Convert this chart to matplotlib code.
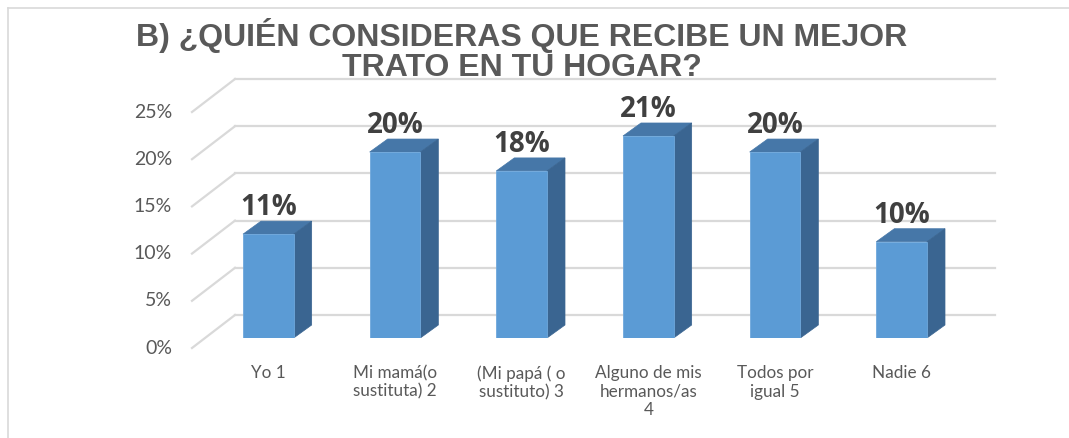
import matplotlib
matplotlib.use("Agg")
import matplotlib.pyplot as plt
from matplotlib.patches import Polygon
from matplotlib.lines import Line2D
import numpy as np

categories = ["Yo 1", "Mi mamá(o\nsustituta) 2", "(Mi papá ( o\nsustituto) 3",
              "Alguno de mis\nhermanos/as\n4", "Todos por\nigual 5", "Nadie 6"]
values = [0.11, 0.197, 0.177, 0.214, 0.197, 0.102]
yticks = [0, 0.05, 0.10, 0.15, 0.20, 0.25]
title = "B) ¿QUIÉN CONSIDERAS QUE RECIBE UN MEJOR\nTRATO EN TU HOGAR?"

W, H, DPI = 1069, 438, 100
fig = plt.figure(figsize=(W / DPI, H / DPI), dpi=DPI)
fig.patch.set_facecolor("white")

# chart frame
fig.add_artist(Line2D([8 / W, 8 / W], [0, 1 - 8 / H], transform=fig.transFigure, color="#d9d9d9", lw=1.2))
fig.add_artist(Line2D([8 / W, 1], [1 - 8 / H, 1 - 8 / H], transform=fig.transFigure, color="#d9d9d9", lw=1.2))

ax = fig.add_axes([205 / W, (H - 338) / H, 760 / W, 236 / H])
ax.set_xlim(-0.5, len(categories) - 0.5)
ax.set_ylim(0, 0.25)
ax.axis("off")

# pixel -> data conversion
px_x = (len(categories)) / 760.0
px_y = 0.25 / 236.0

grid_col = "#d9d9d9"
# back wall offset (+30 px right, 23 px up), front floor edge offset (-13, -10)
bx, by = 30 * px_x, 23 * px_y
fx, fy = -13 * px_x, -10 * px_y
x0, x1 = -0.5, len(categories) - 0.5
for t in yticks:
    ax.plot([x0 + bx, x1 + bx], [t + by, t + by], color=grid_col, lw=1.6, clip_on=False, zorder=0)
    ax.plot([x0 + fx, x0 + bx], [t + fy, t + by], color=grid_col, lw=1.6, clip_on=False, zorder=0)
    ax.text(x0 + fx - 20 * px_x, t + fy, f"{t:.0%}", ha="right", va="center",
            fontsize=14, color="#595959", family=["Lato", "DejaVu Sans"])

# bars
front_col, top_col, side_col = "#5B9BD5", "#4677A8", "#3A6591"
bw = 0.4
dx, dy = 18 * px_x, 13 * px_y
xs = np.arange(len(categories))
ax.bar(xs, values, width=bw, color=front_col, edgecolor="#6fa8dc", lw=0.6, zorder=3)
for x, v in zip(xs, values):
    l, r = x - bw / 2, x + bw / 2
    ax.add_patch(Polygon([[l, v], [r, v], [r + dx, v + dy], [l + dx, v + dy]],
                         closed=True, facecolor=top_col, edgecolor=top_col, lw=0.5, zorder=2))
    ax.add_patch(Polygon([[r, 0], [r, v], [r + dx, v + dy], [r + dx, dy]],
                         closed=True, facecolor=side_col, edgecolor=side_col, lw=0.5, zorder=2))
    ax.text(x, v + 19 * px_y, f"{v:.0%}", ha="center", va="baseline", fontsize=20,
            fontweight="bold", color="#404040", family=["Open Sans", "DejaVu Sans"], zorder=5)

for x, c in zip(xs, categories):
    ax.text(x, -27 * px_y, c, ha="center", va="top", fontsize=12.3, color="#595959",
            linespacing=1.2, family=["Lato", "DejaVu Sans"], clip_on=False)

fig.text(522 / W, 1 - 18 / H, title, ha="center", va="top", fontsize=23, fontweight="bold",
         color="#595959", linespacing=1.0, family=["Liberation Sans", "DejaVu Sans"])

fig.savefig("out.png", dpi=DPI, facecolor="white")
